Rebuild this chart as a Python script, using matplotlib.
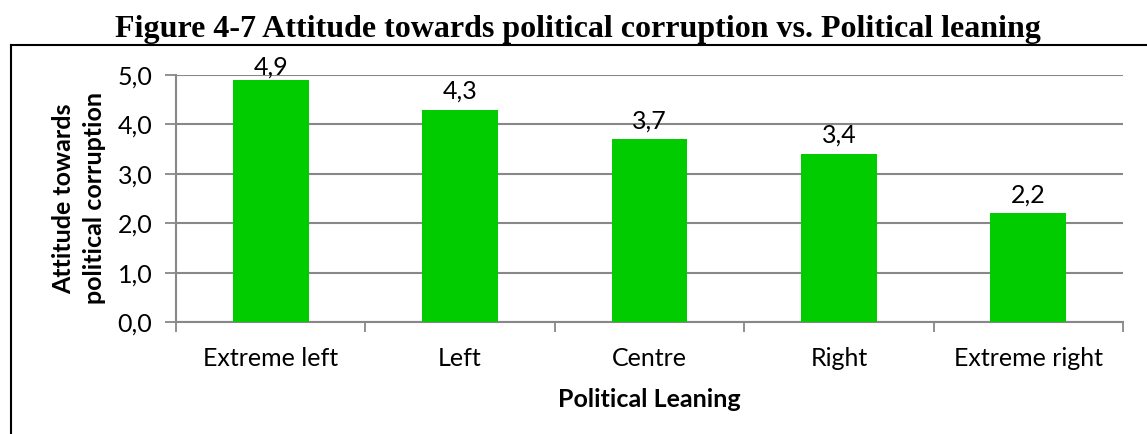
import matplotlib
matplotlib.use("Agg")
import matplotlib.pyplot as plt
from matplotlib.lines import Line2D
import numpy as np

categories = ["Extreme left", "Left", "Centre", "Right", "Extreme right"]
values = [4.9, 4.3, 3.7, 3.4, 2.2]
y_ticks = [0.0, 1.0, 2.0, 3.0, 4.0, 5.0]

title = "Figure 4-7 Attitude towards political corruption vs. Political leaning"
x_label = "Political Leaning"
y_label = "Attitude towards\npolitical corruption"

W, H, DPI = 1147, 434, 100
fig = plt.figure(figsize=(W / DPI, H / DPI), dpi=DPI)

sans = ["Lato", "DejaVu Sans"]
grey = "#888888"

ax = fig.add_axes([176 / W, 1 - 322 / H, (1123 - 176) / W, (322 - 75) / H])

x = np.arange(len(categories))
ax.bar(x, values, width=0.4, color="#00CC00", zorder=3)

ax.set_xlim(-0.5, len(categories) - 0.5)
ax.set_ylim(0, 5.0)
ax.set_yticks(y_ticks)
ax.set_yticklabels([f"{v:.1f}".replace(".", ",") for v in y_ticks],
                   family=sans, fontsize=18)
ax.set_xticks(x)
ax.set_xticklabels(categories, family=sans, fontsize=18)
ax.set_xticks(np.arange(len(categories) + 1) - 0.5, minor=True)

ax.tick_params(axis="x", which="major", length=0, pad=18)
ax.tick_params(axis="x", which="minor", length=7, width=1.3, color=grey,
               direction="out")
ax.tick_params(axis="y", length=8, width=1.3, color=grey, direction="out",
               pad=9)

ax.yaxis.grid(True, color=grey, linewidth=1.5, zorder=0)
ax.set_axisbelow(True)
for s in ("top", "right"):
    ax.spines[s].set_visible(False)
for s in ("left", "bottom"):
    ax.spines[s].set_color(grey)
    ax.spines[s].set_linewidth(1.5)

# value labels above the bars, kept inside the plot area
px_per_unit = (322 - 75) / 5.0
offset = 11 / px_per_unit
for xi, v in zip(x, values):
    ax.text(xi, min(v + offset, 5.0), f"{v:.1f}".replace(".", ","),
            ha="center", va="baseline", family=sans, fontsize=18, zorder=4)

ax.set_xlabel(x_label, family=sans, fontsize=18, fontweight="bold",
              labelpad=13)
ax.set_ylabel(y_label, family=sans, fontsize=18, fontweight="bold",
              labelpad=8, linespacing=1.45)

fig.text(578 / W, 1 - 37 / H, title, ha="center", va="baseline",
         family=["Liberation Serif", "DejaVu Serif"], fontsize=23,
         fontweight="bold")

# frame lines around the chart block
fig.add_artist(Line2D([10.5 / W, 1], [1 - 45 / H, 1 - 45 / H],
                      transform=fig.transFigure, color="black", lw=1.5))
fig.add_artist(Line2D([10.5 / W, 10.5 / W], [0, 1 - 45 / H],
                      transform=fig.transFigure, color="black", lw=1.5))

fig.savefig("out.png", dpi=DPI, facecolor="white")
